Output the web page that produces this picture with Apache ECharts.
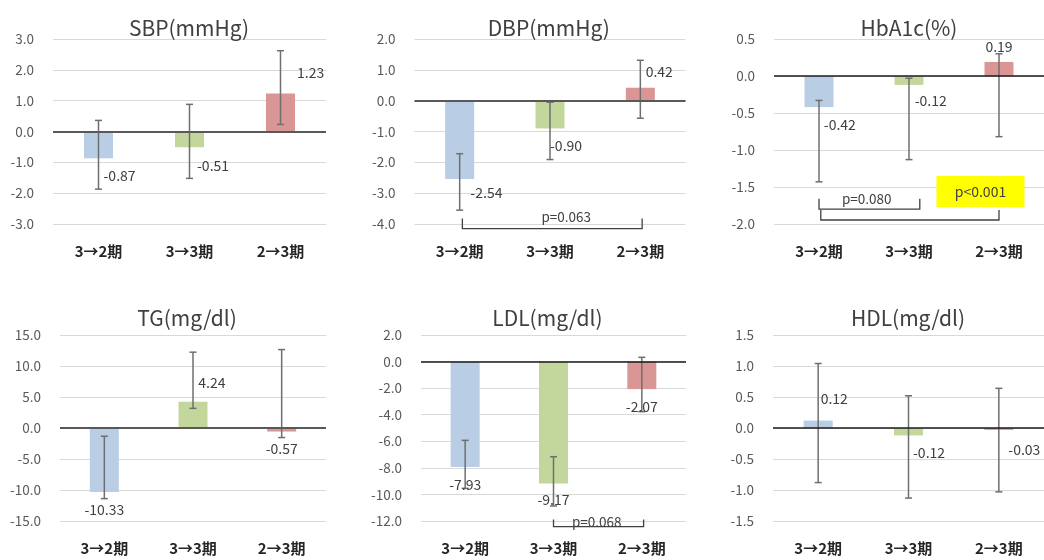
<!DOCTYPE html>
<html><head><meta charset="utf-8">
<script src="https://cdn.jsdelivr.net/npm/echarts@6/dist/echarts.min.js"></script>
<style>html,body{margin:0;padding:0;background:#fff}#c{width:1044px;height:560px}</style>
</head><body><div id="c"></div>
<script>
// ---------- data ----------
const categories = ['3→2期', '3→3期', '2→3期'];
const titles = ['SBP(mmHg)', 'DBP(mmHg)', 'HbA1c(%)', 'TG(mg/dl)', 'LDL(mg/dl)', 'HDL(mg/dl)'];

const sbpValues   = [-0.87, -0.51, 1.23];
const sbpErrLow   = [-1.87, -1.52, 0.23];
const sbpErrHigh  = [0.36, 0.88, 2.62];

const dbpValues   = [-2.54, -0.90, 0.42];
const dbpErrLow   = [-3.55, -1.91, -0.57];
const dbpErrHigh  = [-1.72, -0.05, 1.31];

const hba1cValues  = [-0.42, -0.12, 0.19];
const hba1cErrLow  = [-1.43, -1.13, -0.82];
const hba1cErrHigh = [-0.33, -0.03, 0.30];

const tgValues    = [-10.33, 4.24, -0.57];
const tgErrLow    = [-11.39, 3.17, -1.54];
const tgErrHigh   = [-1.33, 12.23, 12.65];

const ldlValues   = [-7.93, -9.17, -2.07];
const ldlErrLow   = [-9.54, -10.87, -3.77];
const ldlErrHigh  = [-5.93, -7.16, 0.32];

const hdlValues   = [0.12, -0.12, -0.03];
const hdlErrLow   = [-0.88, -1.13, -1.03];
const hdlErrHigh  = [1.04, 0.52, 0.64];

// y-axis ticks: [min, max, interval]
const sbpTicks   = [-3, 3, 1];
const dbpTicks   = [-4, 2, 1];
const hba1cTicks = [-2, 0.5, 0.5];
const tgTicks    = [-15, 15, 5];
const ldlTicks   = [-12, 2, 2];
const hdlTicks   = [-1.5, 1.5, 0.5];

const pTexts = ['p=0.063', 'p=0.080', 'p<0.001', 'p=0.068'];

// ---------- layout & style ----------
const FONT = '"Noto Sans CJK JP", "Noto Sans", sans-serif';
const barColors = ['#B9CDE5', '#C3D69B', '#D99694'];

const panels = [
  { values: sbpValues, low: sbpErrLow, high: sbpErrHigh, ticks: sbpTicks,
    grid: { left: 53, top: 39, width: 273, height: 185 }, title: [184, 22.7],
    zero: { color: '#595959', width: 2 },
    labels: [[5, 17, 'left'], [7.5, 18, 'left'], [16.5, -21, 'left']], notes: [] },
  { values: dbpValues, low: dbpErrLow, high: dbpErrHigh, ticks: dbpTicks,
    grid: { left: 414.5, top: 39, width: 271, height: 185 }, title: [543.7, 22.7],
    zero: { color: '#595959', width: 2 },
    labels: [[10.7, 13.7, 'left'], [0, 17.6, 'left'], [5.3, -16, 'left']],
    notes: [{ kind: 'bracket', from: 0.03, to: 2.02, base: -4.15, tip: -3.82, tx: 1.18, ty: -3.78, text: pTexts[0] }] },
  { values: hba1cValues, low: hba1cErrLow, high: hba1cErrHigh, ticks: hba1cTicks,
    grid: { left: 774, top: 39, width: 272, height: 185 }, title: [904, 22.7],
    zero: { color: '#1a1a1a', width: 1.5 },
    labels: [[4.8, 18, 'left'], [5.7, 15.6, 'left'], [0, -15.5, 'center']],
    notes: [
      { kind: 'bracket', from: 0, to: 1.12, base: -1.80, tip: -1.66, tx: 0.53, ty: -1.667, text: pTexts[1] },
      { kind: 'bracket', from: 0.02, to: 2.0, base: -1.946, tip: -1.81 },
      { kind: 'box', tx: 1.794, ty: -1.561, w: 88, h: 31, text: pTexts[2] }
    ] },
  { values: tgValues, low: tgErrLow, high: tgErrHigh, ticks: tgTicks,
    grid: { left: 60, top: 335, width: 266, height: 186 }, title: [182, 313.3],
    zero: { color: '#595959', width: 2 },
    labels: [[0, 18, 'center'], [5.3, -19, 'left'], [0, 17, 'center']], notes: [] },
  { values: ldlValues, low: ldlErrLow, high: ldlErrHigh, ticks: ldlTicks,
    grid: { left: 421, top: 335, width: 265, height: 186 }, title: [542.5, 313.3],
    zero: { color: '#1a1a1a', width: 1.5 },
    labels: [[0, 18, 'center'], [0, 16.6, 'center'], [0, 17.6, 'center']],
    notes: [{ kind: 'bracket', from: 1.0, to: 2.02, base: -12.43, tip: -11.89, tx: 1.49, ty: -12.05, text: pTexts[3] }] },
  { values: hdlValues, low: hdlErrLow, high: hdlErrHigh, ticks: hdlTicks,
    grid: { left: 773, top: 335, width: 273, height: 186 }, title: [903, 313.3],
    zero: { color: '#1a1a1a', width: 1.5 },
    labels: [[2.5, -21.6, 'left'], [4.5, 17.6, 'left'], [9.5, 20, 'left']], notes: [] }
];

function xAt(api, f) {
  const i = Math.floor(f);
  const x0 = api.coord([i, 0])[0];
  const bw = api.size([1, 0])[0];
  return x0 + (f - i) * bw;
}
function yAt(api, v) { return api.coord([0, v])[1]; }

const option = {
  backgroundColor: '#ffffff',
  animation: false,
  textStyle: { fontFamily: FONT },
  title: panels.map((p, i) => ({
    text: titles[i], left: p.title[0], top: p.title[1],
    textAlign: 'center', textVerticalAlign: 'middle',
    textStyle: { fontFamily: FONT, fontSize: 21, fontWeight: 'normal', color: '#404040' }
  })),
  grid: panels.map(p => Object.assign({ containLabel: false }, p.grid)),
  xAxis: panels.map((p, i) => ({
    type: 'category', gridIndex: i, data: categories,
    axisLine: { show: false }, axisTick: { show: false },
    axisLabel: { fontFamily: FONT, fontSize: 15, fontWeight: 'bold', color: '#262626', margin: 20 }
  })),
  yAxis: panels.map((p, i) => ({
    type: 'value', gridIndex: i, min: p.ticks[0], max: p.ticks[1], interval: p.ticks[2],
    axisLine: { show: false }, axisTick: { show: false },
    splitLine: { lineStyle: { color: '#D9D9D9', width: 1 } },
    axisLabel: { fontFamily: FONT, fontSize: 13.5, color: '#595959', margin: 19,
      formatter: v => v.toFixed(1) }
  })),
  series: []
};

panels.forEach((p, i) => {
  option.series.push({
    type: 'bar', xAxisIndex: i, yAxisIndex: i, barWidth: 29, z: 2,
    data: p.values.map((v, k) => ({ value: v, itemStyle: { color: barColors[k] } })),
    markLine: {
      silent: true, symbol: ['none', 'none'], label: { show: false },
      lineStyle: { color: p.zero.color, width: p.zero.width, type: 'solid' },
      data: [{ yAxis: 0 }]
    }
  });
  // error bars
  option.series.push({
    type: 'custom', xAxisIndex: i, yAxisIndex: i, z: 4, clip: false,
    data: p.values.map((v, k) => [k, p.low[k], p.high[k]]),
    encode: { x: 0, y: [1, 2] },
    renderItem: (params, api) => {
      const a = api.coord([api.value(0), api.value(1)]);
      const b = api.coord([api.value(0), api.value(2)]);
      const st = { stroke: '#6f6f6f', lineWidth: 1.5 };
      const c = 3.5;
      return { type: 'group', children: [
        { type: 'line', shape: { x1: a[0], y1: a[1], x2: b[0], y2: b[1] }, style: st },
        { type: 'line', shape: { x1: a[0] - c, y1: a[1], x2: a[0] + c, y2: a[1] }, style: st },
        { type: 'line', shape: { x1: b[0] - c, y1: b[1], x2: b[0] + c, y2: b[1] }, style: st }
      ] };
    }
  });
  // value labels
  option.series.push({
    type: 'custom', xAxisIndex: i, yAxisIndex: i, z: 6, clip: false,
    data: p.values.map((v, k) => [k, v]),
    encode: { x: 0, y: 1 },
    renderItem: (params, api) => {
      const pt = api.coord([api.value(0), api.value(1)]);
      const off = p.labels[params.dataIndex];
      return { type: 'text', x: pt[0] + off[0], y: pt[1] + off[1],
        style: { text: api.value(1).toFixed(2), fill: '#404040', fontFamily: FONT, fontSize: 14,
          align: off[2], verticalAlign: 'middle' } };
    }
  });
  // annotations (brackets / p-values)
  if (p.notes.length) {
    option.series.push({
      type: 'custom', xAxisIndex: i, yAxisIndex: i, z: 7, clip: false,
      data: p.notes.map(() => [0, 0]),
      encode: { x: 0, y: 1 },
      renderItem: (params, api) => {
        const n = p.notes[params.dataIndex];
        const children = [];
        if (n.kind === 'bracket') {
          const x1 = xAt(api, n.from), x2 = xAt(api, n.to);
          const yb = yAt(api, n.base), yt = yAt(api, n.tip);
          children.push({ type: 'polyline', shape: { points: [[x1, yt], [x1, yb], [x2, yb], [x2, yt]] },
            style: { stroke: '#404040', lineWidth: 1.3, fill: null } });
          if (n.text) children.push({ type: 'text', x: xAt(api, n.tx), y: yAt(api, n.ty),
            style: { text: n.text, fill: '#404040', fontFamily: FONT, fontSize: 13.5, align: 'center', verticalAlign: 'middle' } });
        } else {
          const cx = xAt(api, n.tx), cy = yAt(api, n.ty);
          children.push({ type: 'rect', shape: { x: cx - n.w / 2, y: cy - n.h / 2, width: n.w, height: n.h },
            style: { fill: '#FFFF00' } });
          children.push({ type: 'text', x: cx, y: cy,
            style: { text: n.text, fill: '#404040', fontFamily: FONT, fontSize: 14, align: 'center', verticalAlign: 'middle' } });
        }
        return { type: 'group', children };
      }
    });
  }
});

const chart = echarts.init(document.getElementById('c'));
chart.setOption(option);
</script>
</body></html>
